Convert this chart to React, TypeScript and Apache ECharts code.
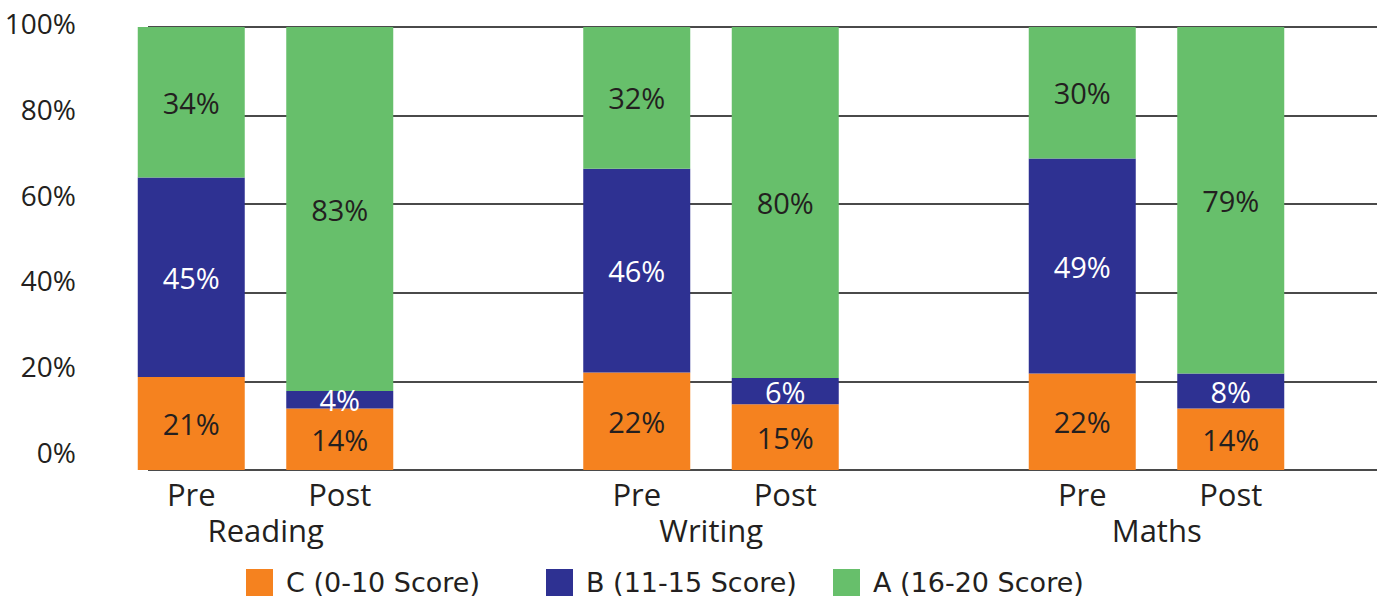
import React, { useEffect, useRef } from "react";
import * as echarts from "echarts";

const slots = ["Pre", "Post", "", "Pre", "Post", "", "Pre", "Post"];
const subjects = ["Reading", "Writing", "Maths"];
const subjectSlots = [0, 3, 6];
const barSlots = [0, 1, 3, 4, 6, 7];
const cValues = [21, 14, 22, 15, 22, 14];
const bValues = [45, 4, 46, 6, 49, 8];
const aValues = [34, 83, 32, 80, 30, 79];
const seriesNames = ["C (0-10 Score)", "B (11-15 Score)", "A (16-20 Score)"];
const colors = ["#F5821F", "#2E3192", "#67BF6B"];

const FONT = "Open Sans";
const TXT = "#231F20";

export default function App() {
  const ref = useRef<HTMLDivElement>(null);
  useEffect(() => {
    if (!ref.current) return;
    const chart = echarts.init(ref.current, null, { renderer: "svg" });
    const raw = [cValues, bValues, aValues];
    const totals = cValues.map((c, i) => c + bValues[i] + aValues[i]);
    const groupLabels = slots.map((_, s) => {
      const k = subjectSlots.indexOf(s);
      return k >= 0 ? subjects[k] : "";
    });
    const option: any = {
      animation: false,
      backgroundColor: "#ffffff",
      textStyle: { fontFamily: FONT },
      grid: [
        { left: 148, right: 4, top: 27, bottom: 129 },
        { left: 117, right: 76, top: 27, bottom: 129 },
        { left: 148, right: 4, top: 23, bottom: 147 },
      ],
      xAxis: [
        { type: "category", gridIndex: 0, data: [""], show: false },
        {
          type: "category",
          gridIndex: 1,
          data: slots,
          axisLine: { show: false },
          axisTick: { show: false },
          axisLabel: { interval: 0, margin: 8, fontSize: 31, color: TXT, fontFamily: FONT },
        },
        {
          type: "category",
          gridIndex: 1,
          position: "bottom",
          data: groupLabels,
          axisLine: { show: false },
          axisTick: { show: false },
          axisLabel: {
            interval: 0,
            margin: 44,
            formatter: (v: string) => (v ? `{g|${v}}` : ""),
            rich: { g: { fontSize: 31, color: TXT, fontFamily: FONT, padding: [0, 0, 0, 149] } },
          },
        },
        { type: "category", gridIndex: 2, data: [""], show: false },
      ],
      yAxis: [
        {
          type: "value",
          gridIndex: 0,
          min: 0,
          max: 100,
          interval: 20,
          axisLabel: { show: false },
          axisLine: { show: false },
          axisTick: { show: false },
          splitLine: { show: true, lineStyle: { color: "#4a4a4a", width: 2 } },
        },
        { type: "value", gridIndex: 1, min: 0, max: 100, show: false, splitLine: { show: false } },
        {
          type: "value",
          gridIndex: 2,
          min: 0,
          max: 100,
          interval: 20,
          axisLine: { show: false },
          axisTick: { show: false },
          splitLine: { show: false },
          axisLabel: { formatter: "{value}%", fontSize: 28, color: TXT, margin: 72, fontFamily: FONT },
        },
      ],
      legend: seriesNames.map((n, k) => ({
        data: [n],
        left: [246, 546, 833][k],
        top: 569,
        icon: "rect",
        itemWidth: 27,
        itemHeight: 27,
        itemGap: 0,
        padding: 0,
        selectedMode: false,
        textStyle: { fontSize: 27, color: TXT, fontFamily: "DejaVu Sans", padding: [0, 0, 0, 8] },
      })),
      series: seriesNames.map((name, k) => ({
        name,
        type: "bar",
        stack: "total",
        xAxisIndex: 1,
        yAxisIndex: 1,
        barWidth: 107,
        itemStyle: { color: colors[k] },
        label: {
          show: true,
          position: "inside",
          fontSize: 29,
          fontFamily: FONT,
          color: k === 1 ? "#ffffff" : TXT,
          formatter: (p: any) => (p.data && p.data.raw != null ? p.data.raw + "%" : ""),
        },
        data: slots.map((_, s) => {
          const i = barSlots.indexOf(s);
          if (i < 0) return "-";
          return { value: (raw[k][i] / totals[i]) * 100, raw: raw[k][i] };
        }),
      })),
    };
    chart.setOption(option);
    return () => chart.dispose();
  }, []);
  return (
    <div
      ref={ref}
      style={{ position: "absolute", left: 0, top: 0, width: 1381, height: 599 }}
    />
  );
}
